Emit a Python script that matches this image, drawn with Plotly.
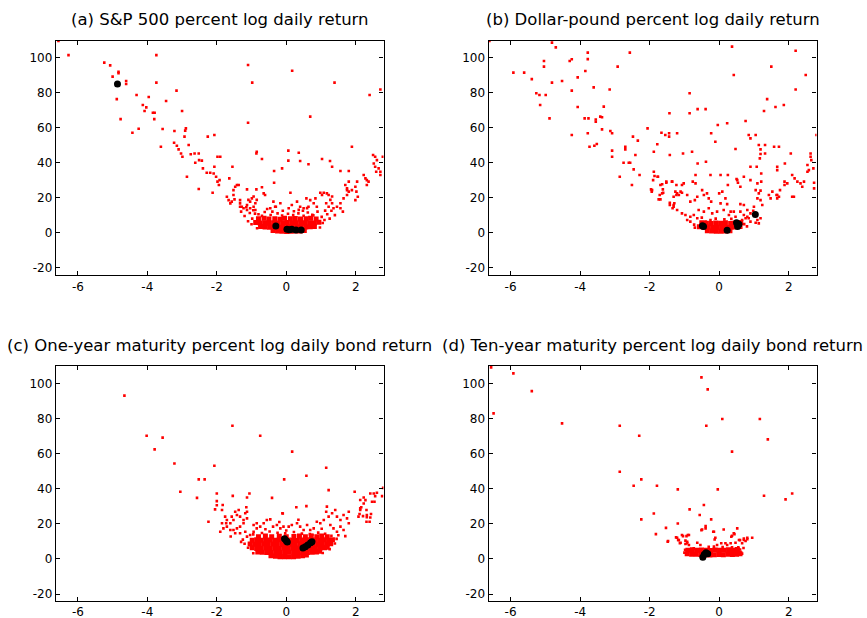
import plotly.graph_objects as go

# ---------------- tick labels ----------------
x_ticks = [-6, -4, -2, 0, 2]
x_tick_text = ["-6", "-4", "-2", "0", "2"]
y_ticks = [-20, 0, 20, 40, 60, 80, 100]
y_tick_text = ["-20", "0", "20", "40", "60", "80", "100"]

titles = [
    "(a) S&P 500 percent log daily return",
    "(b) Dollar-pound percent log daily return",
    "(c) One-year maturity percent log daily bond return",
    "(d) Ten-year maturity percent log daily bond return",
]

# ---------------- (a) S&P 500 ----------------
sp_red = [
    (-6.56, 109.3), (-6.27, 101.3), (-5.24, 97.0), (-5.07, 95.4), (-5.00, 89.0), (-4.83, 91.8), (-4.83, 90.9),
    (-4.61, 86.5), (-4.61, 84.8), (-4.88, 76.2), (-4.77, 64.8), (-4.31, 78.5), (-4.43, 57.0), (-4.25, 59.3),
    (-3.96, 77.4), (-4.13, 72.8), (-4.03, 71.5), (-4.08, 69.4), (-3.84, 68.4), (-3.79, 68.4), (-3.80, 64.8),
    (-3.74, 101.3), (-3.74, 85.6), (-3.46, 75.1), (-3.16, 81.0), (-3.56, 59.1), (-3.61, 49.0), (-3.22, 58.0),
    (-3.23, 51.3), (-3.15, 49.6), (-3.10, 47.5), (-3.03, 45.2), (-2.99, 43.3), (-3.00, 69.4), (-2.89, 59.5),
    (-2.91, 58.2), (-2.93, 54.8), (-2.81, 50.0), (-2.75, 44.7), (-2.86, 31.9), (-2.64, 45.2), (-2.52, 45.2),
    (-2.62, 39.9), (-2.51, 41.4), (-2.43, 41.1), (-2.40, 36.7), (-2.52, 24.9), (-2.26, 54.8), (-2.07, 55.7),
    (-2.29, 34.2), (-2.19, 34.2), (-2.09, 33.8), (-2.07, 37.6), (-1.98, 43.3), (-1.90, 43.3), (-2.02, 31.9),
    (-1.98, 29.1), (-1.94, 27.2), (-1.92, 30.0), (-2.12, 22.8), (-1.55, 37.6), (-1.64, 31.0), (-1.71, 20.5),
    (-1.66, 18.6), (-1.61, 16.7), (-1.57, 17.7), (-1.52, 24.3), (-1.47, 26.2), (-1.42, 27.2), (-1.37, 27.2),
    (-1.52, 21.5), (-1.49, 19.0), (-1.33, 18.6), (-1.33, 16.7), (-1.33, 14.8), (-1.10, 95.6), (-0.98, 85.6),
    (-1.10, 62.7), (-0.85, 46.2), (-0.86, 45.2), (-0.70, 42.0), (-0.35, 35.2), (-0.35, 28.5), (0.06, 46.8),
    (0.06, 41.1), (-0.12, 36.7), (0.17, 92.4), (0.36, 45.6), (0.40, 40.9), (0.69, 66.2), (0.64, 39.0),
    (1.03, 42.0), (1.39, 85.6), (1.26, 40.9), (1.32, 37.6), (1.89, 49.0), (1.56, 35.2), (1.80, 35.2),
    (2.40, 78.5), (2.71, 81.7), (2.78, 43.3), (2.50, 44.3), (2.56, 43.3), (2.61, 41.4), (2.52, 39.5),
    (2.56, 37.6), (2.66, 36.7), (2.71, 34.8), (2.71, 32.9), (2.59, 34.8), (2.23, 32.9), (2.28, 31.0),
    (2.32, 30.0), (2.37, 29.1), (2.32, 27.2), (2.04, 29.1), (1.99, 26.2), (2.02, 23.4), (2.06, 20.5),
    (1.99, 18.6), (1.80, 29.1), (1.75, 24.3), (1.70, 27.2),
    (-1.28, 14.8), (-1.23, 13.9), (-1.13, 12.9), (-1.13, 15.8), (-1.04, 17.7), (-1.09, 18.7), (-0.99, 19.6),
    (-0.94, 20.6), (-0.89, 16.8), (-0.85, 18.7), (-0.94, 14.8), (-1.04, 13.9), (-0.89, 12.9), (-1.13, 24.7),
    (-0.86, 24.7), (-0.70, 25.9), (-0.65, 22.4), (-0.61, 21.5), (-0.46, 13.9), (-0.37, 17.7), (-0.32, 14.8),
    (-0.17, 16.8), (0.12, 22.8), (0.07, 13.9), (0.16, 15.8), (0.31, 17.7), (0.40, 14.8), (0.36, 13.0),
    (0.50, 13.9), (0.58, 19.6), (0.69, 18.6), (0.84, 19.6), (0.79, 16.8), (0.64, 14.8), (0.88, 14.8),
    (0.98, 22.8), (1.03, 21.5), (1.08, 22.8), (1.17, 22.4), (1.22, 21.5), (1.32, 20.6), (1.27, 18.7),
    (1.15, 16.8), (1.32, 16.8), (1.22, 14.8), (1.36, 13.9), (1.46, 14.8), (1.56, 16.8), (1.65, 19.6),
    (1.75, 21.5), (1.80, 23.4), (1.75, 25.3), (1.89, 24.3), (1.56, 13.9), (1.63, 12.0),
    (-1.20, 9.5), (-1.05, 11.2), (-0.98, 8.0), (-1.10, 6.5), (-0.95, 12.8), (-0.80, 10.5), (-0.62, 11.8),
    (-0.55, 13.5), (-0.40, 12.0), (-0.25, 11.0), (-0.10, 12.5), (0.05, 10.8), (0.22, 12.2), (0.35, 11.0),
    (0.48, 12.5), (0.62, 11.5), (0.75, 10.2), (0.90, 12.0), (1.02, 9.0), (1.10, 7.2), (1.18, 10.5),
    (1.25, 8.0), (1.05, 5.5), (-1.00, 4.8), (0.97, 3.0), (-0.84, 2.5), (1.30, 12.5), (1.40, 10.0),
    (-1.30, 12.0), (-1.15, 14.5), (0.60, 14.0), (-0.30, 14.8), (-0.70, 9.6), (-0.45, 10.1), (-0.12, 9.8),
    (0.20, 10.0), (0.50, 9.7), (0.78, 9.9), (1.12, 12.6), (-0.90, 10.9),
]
sp_core = [
    (-0.38, 1.2), (-0.25, 0.9), (-0.12, 0.8), (0.01, 0.7), (0.14, 0.8), (0.27, 0.9), (0.40, 1.0), (0.52, 1.3),
    (-0.74, 3.5), (-0.61, 3.2), (-0.48, 3.1), (-0.35, 3.3), (-0.22, 3.0), (-0.09, 3.2), (0.04, 3.4),
    (0.17, 3.1), (0.30, 3.3), (0.43, 3.0), (0.56, 3.2), (0.69, 3.4), (0.81, 3.6),
    (-0.88, 5.8), (-0.75, 5.5), (-0.62, 5.6), (-0.49, 5.4), (-0.36, 5.7), (-0.23, 5.5), (-0.10, 5.6),
    (0.03, 5.8), (0.16, 5.5), (0.29, 5.6), (0.42, 5.4), (0.55, 5.7), (0.68, 5.6), (0.81, 5.5), (0.94, 5.9),
    (-0.80, 7.9), (-0.64, 8.2), (-0.50, 7.8), (-0.33, 8.0), (-0.18, 7.7), (-0.05, 8.3), (0.12, 7.9),
    (0.26, 8.1), (0.41, 7.8), (0.57, 8.0), (0.70, 8.3), (0.86, 7.8),
]
sp_black = [(-4.86, 84.8), (-0.30, 3.8), (0.02, 1.9), (0.09, 1.7), (0.16, 1.9), (0.28, 1.5), (0.43, 1.5)]

# ---------------- (b) Dollar-pound ----------------
fx_red = [
    (-6.61, 109.4), (-5.92, 91.3), (-5.61, 91.3), (-5.39, 87.6), (-5.26, 79.5), (-5.17, 78.5), (-4.99, 78.5),
    (-5.15, 72.8), (-5.04, 97.9), (-5.04, 94.7), (-4.88, 65.2), (-4.81, 108.4), (-4.70, 105.7), (-4.81, 85.6),
    (-4.52, 86.5), (-4.30, 97.9), (-4.24, 98.9), (-4.24, 81.0), (-4.24, 55.7), (-4.07, 88.6), (-4.07, 71.7),
    (-3.87, 65.2), (-3.76, 65.2), (-3.85, 92.2), (-3.78, 102.7), (-3.78, 99.0), (-3.78, 56.7), (-3.73, 49.0),
    (-3.61, 82.9), (-3.55, 64.6), (-3.55, 63.3), (-3.52, 50.6), (-3.59, 49.6), (-3.42, 66.2), (-3.37, 65.8),
    (-3.37, 58.9), (-3.32, 71.9), (-3.15, 81.7), (-3.13, 58.0), (-3.08, 56.7), (-3.08, 46.8), (-3.08, 43.3),
    (-2.92, 94.7), (-2.86, 31.9), (-2.70, 49.0), (-2.70, 47.5), (-2.75, 39.9), (-2.60, 39.9), (-2.56, 39.9),
    (-2.57, 102.7), (-2.51, 27.2), (-2.48, 54.8), (-2.46, 36.1), (-2.41, 44.3), (-2.34, 52.5), (-2.29, 32.9),
    (-2.06, 59.5), (-1.96, 24.7), (-1.94, 23.4), (-1.88, 46.2), (-1.88, 34.8), (-1.86, 32.3), (-1.90, 30.0),
    (-1.78, 50.4), (-1.76, 31.9), (-1.69, 27.2), (-1.74, 19.0), (-1.69, 19.0), (-1.66, 57.0), (-1.62, 24.7),
    (-1.61, 22.8), (-1.55, 55.7), (-1.52, 28.5), (-1.44, 54.8), (-1.44, 56.7), (-1.43, 68.1), (-1.42, 44.3),
    (-1.42, 15.8), (-1.36, 29.1), (-1.34, 13.9), (-1.31, 15.8), (-1.21, 56.7), (-1.26, 23.4), (-1.21, 22.4),
    (-1.16, 21.5), (-1.07, 27.2), (-1.04, 45.2), (-1.02, 28.1), (-0.85, 79.5), (-0.85, 68.1), (-0.78, 46.2),
    (-0.76, 29.1), (-0.68, 32.9), (-0.62, 70.5), (-0.62, 39.5), (-0.39, 70.5), (-0.38, 40.5), (-0.23, 56.7),
    (-0.11, 51.9), (-0.04, 61.4), (0.04, 32.9), (0.23, 62.4), (0.25, 32.9), (0.37, 106.1), (0.42, 89.9),
    (0.47, 47.7), (0.50, 30.6), (0.54, 28.5), (0.76, 63.7), (0.71, 31.9), (0.85, 55.7), (0.90, 53.8),
    (0.90, 37.6), (1.05, 55.7), (1.08, 37.6), (1.14, 50.0), (1.19, 47.5), (1.19, 44.9), (1.17, 42.4),
    (1.21, 33.8), (1.21, 29.1), (1.19, 24.0), (1.29, 69.4), (1.32, 50.0), (1.32, 45.2), (1.38, 76.2),
    (1.50, 94.7), (1.58, 49.0), (1.62, 71.7), (1.67, 37.6), (1.67, 35.7), (1.72, 49.0), (1.65, 21.5),
    (1.72, 20.5), (1.67, 19.6), (1.86, 72.8), (1.89, 39.5), (1.88, 29.1), (1.96, 28.1), (1.88, 27.2),
    (2.06, 45.2), (2.10, 32.9), (2.17, 31.0), (2.25, 29.1), (2.10, 20.5), (2.15, 20.5), (2.20, 81.7),
    (2.20, 103.8), (2.34, 28.1), (2.44, 29.1), (2.39, 26.2), (2.49, 89.9), (2.54, 38.6), (2.58, 35.7),
    (2.54, 34.8), (2.63, 43.3), (2.63, 45.2), (2.65, 41.4), (2.71, 36.7), (2.73, 28.5), (2.73, 25.3),
    (2.80, 55.7),
    (-1.77, 31.9), (-1.64, 27.6), (-1.52, 29.1), (-1.35, 29.1), (-1.93, 24.3), (-1.71, 21.5), (-1.64, 22.4),
    (-1.42, 17.1), (-1.29, 16.8), (-1.31, 20.5), (-1.23, 21.5), (-1.11, 23.4), (-1.07, 22.8), (-1.23, 27.2),
    (-0.92, 21.5), (-0.83, 17.7), (-0.70, 18.6), (-0.63, 20.5), (-0.68, 28.1), (-0.49, 24.3), (-0.44, 21.5),
    (-0.35, 22.4), (-0.30, 19.6), (-0.23, 17.7), (-0.25, 32.9), (0.00, 22.4), (0.09, 23.4), (0.18, 19.6),
    (0.25, 27.2), (0.23, 16.3), (0.04, 16.7), (0.33, 12.0), (0.42, 12.0), (0.61, 12.0), (0.52, 30.0),
    (0.61, 26.2), (1.05, 24.3), (1.14, 22.4), (1.10, 19.6), (1.43, 21.5), (1.48, 19.6), (1.67, 21.5),
    (1.53, 23.4), (1.75, 24.3), (0.90, 30.0), (1.10, 28.1), (1.24, 15.8), (1.00, 14.8), (0.81, 12.9),
    (1.19, 18.6), (-1.31, 14.8), (-1.21, 12.9), (-1.07, 11.0), (-0.97, 10.1), (-0.83, 9.1), (-0.73, 10.1),
    (-0.59, 12.9), (-0.44, 12.0), (-0.30, 13.9), (-0.20, 11.0), (-0.06, 12.0), (0.13, 12.9), (0.28, 10.1),
    (0.47, 9.1), (0.71, 10.1), (0.85, 8.2), (0.90, 6.3), (1.10, 7.2), (1.19, 8.2), (-0.25, 7.2),
    (-0.39, 6.3), (-0.63, 8.2), (-0.83, 6.3), (-0.92, 7.2), (0.81, 9.1), (0.90, 11.0), (0.98, 12.5),
    (0.66, 7.2), (0.76, 8.2), (0.61, 16.3), (0.71, 15.8), (1.05, 5.7), (1.14, 5.3), (-0.72, 4.6),
    (-0.10, 8.0), (0.15, 7.6), (0.35, 7.9), (-0.50, 8.6), (0.72, 4.9), (0.80, 3.6), (-0.70, 2.9),
]
fx_core = [
    (-0.34, 1.1), (-0.21, 0.9), (-0.08, 0.8), (0.05, 0.8), (0.18, 0.9), (0.31, 1.1),
    (-0.57, 3.4), (-0.44, 3.1), (-0.31, 3.2), (-0.18, 3.0), (-0.05, 3.1), (0.08, 3.2), (0.21, 3.0),
    (0.34, 3.1), (0.47, 3.3), (0.60, 3.5),
    (-0.50, 5.6), (-0.37, 5.4), (-0.24, 5.3), (-0.10, 5.5), (0.04, 5.4), (0.18, 5.6), (0.33, 5.3),
    (0.46, 5.5), (0.62, 5.8),
]
fx_black = [(-0.45, 3.6), (-0.48, 4.0), (0.23, 1.4), (0.50, 5.7), (0.53, 3.6), (0.57, 4.8), (1.04, 10.4)]

# ---------------- (c) One-year bond ----------------
b1_red = [
    (-4.66, 93.0), (-4.02, 70.2), (-3.56, 69.1), (-3.79, 62.4), (-3.22, 54.4), (-2.07, 53.1), (-3.05, 38.3),
    (-2.52, 45.3), (-2.35, 45.3), (-2.57, 34.8), (-1.55, 75.9), (-0.75, 70.2), (0.17, 61.1), (-0.06, 45.3),
    (0.58, 47.4), (1.15, 51.9), (1.22, 39.2), (1.97, 38.3), (2.79, 40.5), (2.52, 37.3), (2.61, 37.7),
    (2.56, 35.8), (2.76, 35.8), (2.47, 32.6), (2.54, 32.6), (2.23, 35.0), (2.28, 33.5), (2.23, 31.6),
    (2.16, 29.4), (2.13, 27.9), (2.11, 25.6), (2.21, 24.4), (2.32, 23.7), (2.44, 25.6), (2.31, 27.9),
    (2.40, 21.2), (0.58, 30.1), (0.29, 29.4), (-0.10, 25.9), (-0.41, 34.8), (-1.54, 35.9), (-1.13, 35.0),
    (-1.06, 37.3), (-2.00, 37.3), (-2.00, 32.9), (-2.00, 30.6), (-2.05, 28.2), (-2.24, 21.2),
    (-1.83, 30.7), (-1.85, 27.9), (-1.76, 24.1), (-1.71, 22.2), (-1.73, 20.3), (-1.61, 20.3), (-1.57, 24.1),
    (-1.52, 22.2), (-1.42, 25.0), (-1.47, 26.9), (-1.37, 27.9), (-1.33, 24.1), (-1.23, 22.2), (-1.18, 26.0),
    (-1.13, 26.9), (-1.15, 29.4), (-1.13, 23.1), (-1.23, 20.3), (-1.33, 18.4), (-1.42, 17.4), (-1.52, 16.5),
    (-1.61, 16.5), (-1.71, 18.4), (-1.81, 17.4), (-1.85, 20.3), (-1.90, 15.5), (-1.47, 14.6), (-1.33, 14.6),
    (-1.18, 15.5), (-1.13, 12.7), (-1.04, 13.6), (-0.99, 10.8), (-0.94, 15.5), (-0.85, 17.4), (-0.94, 19.3),
    (-0.85, 20.3), (-0.75, 18.4), (-0.65, 20.3), (-0.56, 22.2), (-0.46, 22.5), (-0.38, 18.4), (-0.27, 19.3),
    (-0.17, 17.4), (-0.08, 18.4), (-0.03, 14.6), (0.07, 18.4), (0.16, 19.3), (0.31, 20.3), (0.40, 18.4),
    (0.50, 16.5), (0.60, 19.3), (0.69, 16.5), (0.79, 17.4), (0.88, 21.2), (0.98, 20.3), (1.08, 22.2),
    (1.15, 26.9), (1.17, 29.8), (1.22, 24.1), (1.32, 26.0), (1.41, 27.9), (1.46, 24.1), (1.56, 22.2),
    (1.65, 25.0), (1.75, 23.1), (1.80, 26.9), (1.56, 18.4), (1.65, 16.5), (1.46, 15.5), (1.36, 17.4),
    (1.27, 19.3), (1.80, 20.3), (-0.11, 26.0), (2.13, 33.6), (2.42, 37.3), (2.13, 28.8), (2.08, 24.1),
    (2.32, 25.0), (2.31, 21.2), (2.42, 23.6),
    (-1.25, 11.0), (-1.20, 8.6), (-1.10, 6.4), (-1.30, 9.7), (-0.95, 14.0), (-0.70, 14.8), (-0.48, 15.6),
    (-0.25, 14.9), (0.00, 16.2), (0.22, 15.3), (0.45, 14.4), (0.68, 14.1), (0.92, 15.0), (1.12, 14.3),
    (1.30, 13.2), (1.45, 11.4), (1.40, 8.8), (1.50, 13.5), (1.25, 5.6), (1.05, 3.4), (-0.95, 3.2),
    (-0.60, 16.9), (-0.20, 21.0), (0.35, 22.3), (0.75, 13.8), (1.02, 17.2), (1.70, 13.0), (-1.60, 12.8),
]
b1_core = [
    (-0.44, 1.8), (-0.31, 1.5), (-0.18, 1.3), (-0.05, 1.2), (0.08, 1.2), (0.21, 1.3), (0.34, 1.5),
    (0.47, 1.8), (0.58, 2.2),
    (-0.82, 4.0), (-0.69, 3.8), (-0.56, 3.7), (-0.43, 3.6), (-0.30, 3.8), (-0.17, 3.6), (-0.04, 3.7),
    (0.09, 3.8), (0.22, 3.6), (0.35, 3.7), (0.48, 3.9), (0.61, 3.7), (0.74, 3.8), (0.87, 4.0), (0.96, 4.3),
    (-0.98, 6.3), (-0.85, 6.0), (-0.72, 6.1), (-0.59, 6.2), (-0.46, 5.9), (-0.33, 6.1), (-0.20, 6.0),
    (-0.07, 6.2), (0.06, 6.0), (0.19, 6.1), (0.32, 6.2), (0.45, 5.9), (0.58, 6.1), (0.71, 6.0), (0.84, 6.2),
    (0.97, 6.1), (1.10, 6.3), (1.18, 6.6),
    (-1.04, 8.5), (-0.91, 8.3), (-0.78, 8.4), (-0.65, 8.6), (-0.52, 8.3), (-0.39, 8.5), (-0.26, 8.4),
    (-0.13, 8.2), (0.00, 8.5), (0.13, 8.4), (0.26, 8.3), (0.39, 8.6), (0.52, 8.4), (0.65, 8.3), (0.78, 8.5),
    (0.91, 8.4), (1.04, 8.6), (1.17, 8.3), (1.28, 8.6),
    (-0.98, 10.6), (-0.85, 10.9), (-0.72, 10.7), (-0.59, 10.5), (-0.46, 10.8), (-0.33, 10.7), (-0.20, 10.9),
    (-0.07, 10.6), (0.06, 10.8), (0.19, 10.7), (0.32, 10.5), (0.45, 10.8), (0.58, 10.9), (0.71, 10.6),
    (0.84, 10.8), (0.97, 10.7), (1.10, 10.9), (1.23, 10.6), (1.33, 10.9),
    (-0.80, 12.6), (-0.60, 13.0), (-0.42, 12.7), (-0.20, 12.9), (0.00, 12.6), (0.22, 12.8), (0.38, 13.1),
    (0.55, 12.7), (0.72, 12.9), (0.88, 12.6), (1.02, 13.0), (1.18, 12.7),
]
b1_black = [(-0.05, 11.5), (0.00, 10.3), (0.03, 9.6), (0.48, 6.2), (0.55, 7.0), (0.62, 8.0), (0.70, 9.2), (0.74, 9.8)]

# ---------------- (d) Ten-year bond ----------------
b10_red = [
    (-6.56, 109.1), (-5.92, 105.7), (-6.49, 82.9), (-5.39, 95.6), (-4.52, 77.2), (-2.86, 75.9), (-2.30, 70.2),
    (-2.86, 49.7), (-2.46, 41.7), (-2.24, 45.3), (-1.79, 41.7), (-1.19, 39.6), (-0.04, 39.6), (-0.51, 103.4),
    (-0.33, 96.6), (-0.37, 75.9), (0.09, 79.7), (0.37, 61.1), (1.17, 79.7), (1.40, 68.1), (1.29, 36.0),
    (1.91, 33.9), (2.10, 37.3), (-2.24, 22.5), (-1.88, 25.9), (-1.82, 14.1), (-1.53, 17.7), (-1.47, 10.2),
    (-1.19, 20.2), (-1.21, 12.1), (-1.16, 10.7), (-1.13, 8.9), (-1.04, 13.0), (-0.94, 13.0), (-0.87, 13.6),
    (-0.97, 10.4), (-0.92, 8.9), (-0.87, 7.9), (-0.85, 28.2), (-0.56, 25.0), (-0.44, 30.7), (-0.49, 16.8),
    (-0.39, 18.7), (-0.39, 17.4), (-0.23, 22.5), (-0.17, 15.5), (-0.11, 12.1), (0.13, 16.8), (0.06, 8.9),
    (0.23, 7.9), (0.37, 13.2), (0.44, 14.1), (0.52, 17.4), (0.60, 10.7), (0.71, 11.6), (0.81, 12.1),
    (0.95, 12.1), (0.66, 8.9), (0.76, 10.2), (-0.63, 9.2), (-0.54, 7.9), (-0.73, 6.0), (-0.83, 4.7),
    (-0.15, 7.0), (-0.06, 7.9), (0.37, 6.6), (0.56, 5.4), (0.61, 4.1),
    (-1.48, 9.8), (-0.51, 16.4), (-0.15, 15.5), (0.42, 14.6), (0.35, 12.6), (-0.13, 11.1), (-1.24, 12.3),
    (-1.18, 10.8), (-1.11, 9.2), (-1.07, 13.6), (-0.90, 13.6), (-0.97, 8.5), (-0.92, 9.8), (0.18, 8.9),
    (0.33, 8.9), (0.47, 9.2), (0.57, 10.8), (0.71, 10.8), (0.81, 11.2), (0.55, 6.6), (0.60, 5.4),
    (-1.00, 3.6), (-0.98, 5.2), (0.66, 3.0), (0.70, 6.2), (-0.30, 6.9), (0.10, 6.8),
]
b10_core = [
    (-0.92, 2.9), (-0.79, 2.7), (-0.66, 2.6), (-0.53, 2.5), (-0.40, 2.4), (-0.27, 2.3), (-0.14, 2.4),
    (-0.01, 2.5), (0.12, 2.4), (0.25, 2.6), (0.38, 2.5), (0.50, 2.7), (0.60, 2.9),
    (-0.90, 5.0), (-0.77, 5.2), (-0.64, 4.9), (-0.51, 5.1), (-0.38, 5.0), (-0.25, 4.8), (-0.12, 5.1),
    (0.01, 5.0), (0.14, 4.9), (0.27, 5.2), (0.40, 5.0), (0.52, 5.3),
]
b10_black = [(-0.47, 1.0), (-0.43, 2.5), (-0.38, 3.5), (-0.33, 3.0)]

panels = [
    (sp_red, sp_core, sp_black),
    (fx_red, fx_core, fx_black),
    (b1_red, b1_core, b1_black),
    (b10_red, b10_core, b10_black),
]

RED = "#ff0000"
fig = go.Figure()
for i, (red, core, black) in enumerate(panels):
    xa = "x" if i == 0 else "x%d" % (i + 1)
    ya = "y" if i == 0 else "y%d" % (i + 1)
    rx, ry = zip(*red)
    cx, cy = zip(*core)
    bx, by = zip(*black)
    fig.add_trace(go.Scatter(x=cx, y=cy, mode="markers", xaxis=xa, yaxis=ya, cliponaxis=True,
                             marker=dict(symbol="square", size=5, color=RED, line=dict(width=0))))
    fig.add_trace(go.Scatter(x=rx, y=ry, mode="markers", xaxis=xa, yaxis=ya, cliponaxis=True,
                             marker=dict(symbol="square", size=2.6, color=RED, line=dict(width=0))))
    fig.add_trace(go.Scatter(x=bx, y=by, mode="markers", xaxis=xa, yaxis=ya, cliponaxis=True,
                             marker=dict(symbol="circle", size=7, color="black", line=dict(width=0))))

W, H = 867, 618
x_dom = [(56 / W, 383.5 / W), (488.7 / W, 816.5 / W)]
y_dom = [(1 - 275.3 / H, 1 - 40.7 / H), (1 - 600.7 / H, 1 - 366 / H)]
x_rng = [-6.63, 2.80]
y_rng = [[-24.3, 109.5], [-23.8, 109.9]]

common = dict(showgrid=False, zeroline=False, showline=True, linecolor="black", linewidth=1.4,
              mirror="ticks", ticks="inside", ticklen=4, tickwidth=1, tickcolor="black",
              tickfont=dict(family="DejaVu Sans", size=12, color="black"))

layout_axes = {}
for i in range(4):
    col, row = i % 2, i // 2
    xk = "xaxis" if i == 0 else "xaxis%d" % (i + 1)
    yk = "yaxis" if i == 0 else "yaxis%d" % (i + 1)
    xa = "x" if i == 0 else "x%d" % (i + 1)
    ya = "y" if i == 0 else "y%d" % (i + 1)
    layout_axes[xk] = dict(common, domain=x_dom[col], range=x_rng, anchor=ya,
                           tickvals=x_ticks, ticktext=x_tick_text)
    layout_axes[yk] = dict(common, domain=y_dom[row], range=y_rng[row], anchor=xa,
                           tickvals=y_ticks, ticktext=y_tick_text)

annotations = []
for i, t in enumerate(titles):
    col, row = i % 2, i // 2
    xc = (x_dom[col][0] + x_dom[col][1]) / 2
    yc = 1 - (20 if row == 0 else 345) / H
    annotations.append(dict(text=t, x=xc, y=yc, xref="paper", yref="paper", xanchor="center",
                            yanchor="middle", showarrow=False,
                            font=dict(family="DejaVu Sans", size=16.5, color="black")))

fig.update_layout(width=W, height=H, margin=dict(l=0, r=0, t=0, b=0),
                  paper_bgcolor="white", plot_bgcolor="white", showlegend=False,
                  annotations=annotations, **layout_axes)

fig.write_html("out.html", config={"displayModeBar": False},
               post_script="document.body.style.margin='0';document.body.style.overflow='hidden';")
